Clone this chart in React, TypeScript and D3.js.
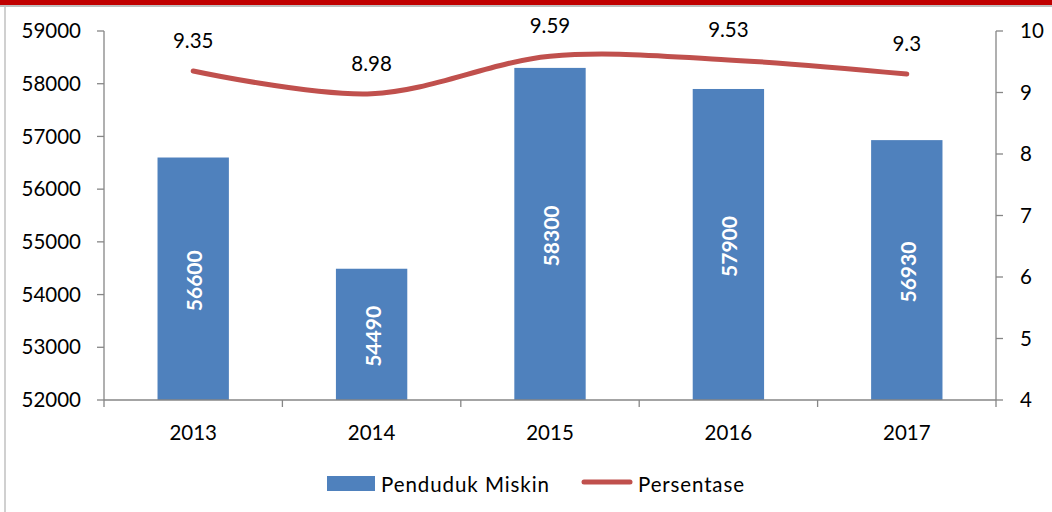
import React from "react";
import * as d3 from "d3";

const years = ["2013", "2014", "2015", "2016", "2017"];
const pendudukMiskin = [56600, 54490, 58300, 57900, 56930];
const persentase = [9.35, 8.98, 9.59, 9.53, 9.3];
const leftTicks = [52000, 53000, 54000, 55000, 56000, 57000, 58000, 59000];
const rightTicks = [4, 5, 6, 7, 8, 9, 10];
const persentaseLabels = ["9.35", "8.98", "9.59", "9.53", "9.3"];

const W = 1052;
const H = 512;
const FONT = "Lato, 'Open Sans', sans-serif";
const FS = 20.5;

export default function App() {
  const x0 = 104, x1 = 996, yTop = 31, yBot = 400;
  const x = d3.scaleBand().domain(years).range([x0, x1]).paddingInner(0).paddingOuter(0);
  const yL = d3.scaleLinear().domain([52000, 59000]).range([yBot, yTop]);
  const yR = d3.scaleLinear().domain([4, 10]).range([yBot, yTop]);
  const bw = x.bandwidth() * 0.4;
  const cx = (d: string) => (x(d) as number) + x.bandwidth() / 2;
  const line = d3
    .line<number>()
    .x((_, i) => cx(years[i]))
    .y((v) => yR(v))
    .curve(d3.curveCardinal.tension(0));
  const axisColor = "#868686";

  return (
    <svg width={W} height={H} style={{ position: "absolute", left: 0, top: 0 }}>
      <rect x={0} y={0} width={W} height={H} fill="#fff" />
      <rect x={0} y={0} width={W} height={5} fill="#C00000" />
      <rect x={0} y={5} width={W} height={2} fill="#BFBFBF" />
      <rect x={4} y={7} width={2} height={H - 7} fill="#D0D0D0" />

      {/* bars */}
      {years.map((yr, i) => {
        const v = pendudukMiskin[i];
        const bx = cx(yr) - bw / 2;
        const top = yL(v);
        const mid = (top + yBot) / 2;
        return (
          <g key={yr}>
            <rect x={bx} y={top} width={bw} height={yBot - top} fill="#4F81BD" />
            <text
              transform={`translate(${cx(yr) + 9},${mid + 2}) rotate(-90)`}
              textAnchor="middle"
              fill="#fff"
              fontWeight="bold"
              fontSize={21}
              fontFamily={FONT}
            >
              {v}
            </text>
          </g>
        );
      })}

      {/* left axis */}
      <line x1={x0} x2={x0} y1={yTop} y2={yBot} stroke={axisColor} strokeWidth={1.3} />
      {leftTicks.map((t) => (
        <g key={t}>
          <line x1={x0 - 7} x2={x0} y1={yL(t)} y2={yL(t)} stroke={axisColor} strokeWidth={1.3} />
          <text x={81} y={yL(t)} dy="0.35em" textAnchor="end" fontSize={FS} fontFamily={FONT} fill="#000">
            {t}
          </text>
        </g>
      ))}

      {/* right axis */}
      <line x1={x1} x2={x1} y1={yTop} y2={yBot} stroke={axisColor} strokeWidth={1.3} />
      {rightTicks.map((t) => (
        <g key={t}>
          <line x1={x1} x2={x1 + 7} y1={yR(t)} y2={yR(t)} stroke={axisColor} strokeWidth={1.3} />
          <text x={1020} y={yR(t)} dy="0.35em" textAnchor="start" fontSize={FS} fontFamily={FONT} fill="#000">
            {t}
          </text>
        </g>
      ))}

      {/* x axis */}
      <line x1={x0} x2={x1} y1={yBot} y2={yBot} stroke={axisColor} strokeWidth={1.3} />
      {years.map((yr, i) => (
        <g key={yr}>
          {i > 0 && (
            <line x1={x(yr)} x2={x(yr)} y1={yBot} y2={yBot + 7} stroke={axisColor} strokeWidth={1.3} />
          )}
          <text x={cx(yr)} y={433} dy="0.35em" textAnchor="middle" fontSize={FS} fontFamily={FONT} fill="#000">
            {yr}
          </text>
        </g>
      ))}
      <line x1={x1} x2={x1} y1={yBot} y2={yBot + 7} stroke={axisColor} strokeWidth={1.3} />
      <line x1={x0} x2={x0} y1={yBot} y2={yBot + 7} stroke={axisColor} strokeWidth={1.3} />

      {/* line */}
      <path d={line(persentase) || ""} fill="none" stroke="#C0504D" strokeWidth={5} strokeLinecap="round" />
      {years.map((yr, i) => (
        <text
          key={yr}
          x={cx(yr)}
          y={yR(persentase[i]) - 30}
          dy="0.35em"
          textAnchor="middle"
          fontSize={FS}
          fontFamily={FONT}
          fill="#000"
        >
          {persentaseLabels[i]}
        </text>
      ))}

      {/* legend */}
      <rect x={327} y={476} width={48} height={15} fill="#4F81BD" />
      <text x={381} y={485} dy="0.35em" fontSize={FS} fontFamily={FONT} fill="#000" textLength={168} lengthAdjust="spacing">
        Penduduk Miskin
      </text>
      <line x1={584} x2={630} y1={482} y2={482} stroke="#C0504D" strokeWidth={5} strokeLinecap="round" />
      <text x={638} y={485} dy="0.35em" fontSize={FS} fontFamily={FONT} fill="#000" textLength={106} lengthAdjust="spacing">
        Persentase
      </text>
    </svg>
  );
}
